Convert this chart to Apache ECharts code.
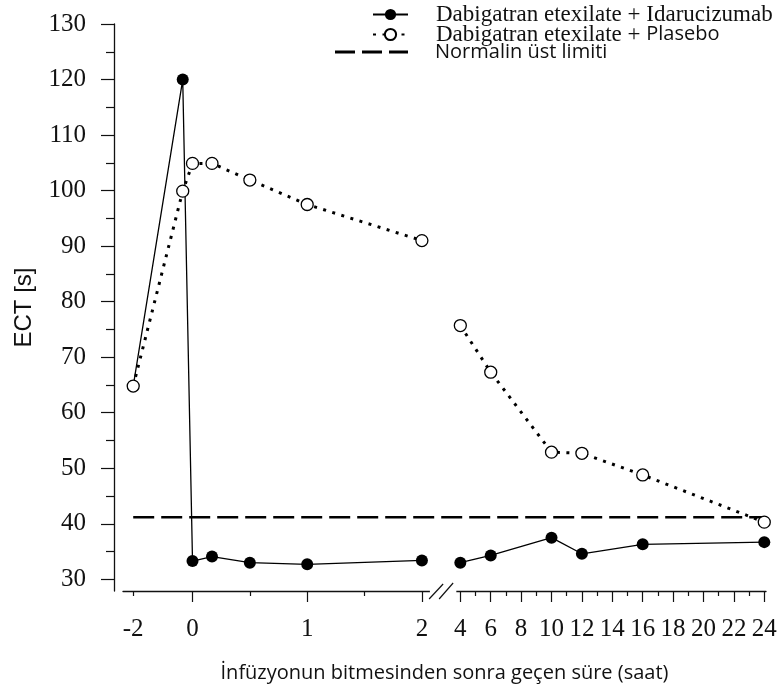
<!DOCTYPE html>
<html><head><meta charset="utf-8">
<script src="https://cdn.jsdelivr.net/npm/echarts@6/dist/echarts.min.js"></script>
<style>html,body{margin:0;padding:0;background:#fff}#c{width:779px;height:686px}</style>
</head><body><div id="c"></div>
<script>
// ---- data (hours after end of infusion) ----
const hours = [-2, -0.33, 0, 0.17, 0.5, 1, 2, 4, 6, 10, 12, 16, 24];
const idarucizumab = [64.8, 120, 33.3, 34.1, 33.0, 32.7, 33.4, 33.0, 34.3, 37.5, 34.6, 36.3, 36.7];
const plasebo = [64.8, 99.9, 104.9, 104.9, 101.9, 97.5, 91.0, 75.7, 67.3, 52.9, 52.7, 48.8, 40.3];
const normalLimit = 41.2;
const normalSpan = [-2, 24];
const majorTickHours = [0, 1, 2, 4, 6, 8, 10, 12, 14, 16, 18, 20, 22, 24];
const minorTickHours = [-2, 0.5, 1.5, 5, 7, 9, 11, 13, 15, 17, 19, 21, 23];
const labelHours = [-2, 0, 1, 2, 4, 6, 8, 10, 12, 14, 16, 18, 20, 22, 24];
const yTicks = [30, 40, 50, 60, 70, 80, 90, 100, 110, 120, 130];
const yMinorTicks = [35, 45, 55, 65, 75, 85, 95, 105, 115, 125];
const names = ['Dabigatran etexilate + Idarucizumab', 'Dabigatran etexilate + Plasebo', 'Normalin üst limiti'];
const xTitle = 'İnfüzyonun bitmesinden sonra geçen süre (saat)';
const yTitle = 'ECT [s]';

// broken time axis: piecewise-linear scale hours -> axis position
function pos(t) {
  if (t <= 0) return t * 0.2585;
  if (t <= 2) return t;
  if (t < 4) return 2 + (t - 2) * (0.335 / 2);
  return 2.335 + (t - 4) * 0.1325;
}
function build(vals) {
  const out = [];
  hours.forEach((h, i) => {
    if (i > 0 && hours[i - 1] <= 2 && h >= 4) out.push([pos(3), null]);
    out.push([pos(h), vals[i]]);
  });
  return out;
}
const X_MIN = -0.606, X_MAX = 5.0;
const serif = 'Liberation Serif', sans = 'Open Sans';

const chart = echarts.init(document.getElementById('c'), null, {renderer: 'canvas'});
chart.setOption({
  backgroundColor: '#fff',
  animation: false,
  grid: {left: 123, right: 13, top: 24, bottom: 95, containLabel: false, outerBoundsMode: 'none'},
  xAxis: [{
    type: 'value', min: X_MIN, max: X_MAX, position: 'bottom',
    axisLine: {show: true, onZero: false, lineStyle: {color: '#111', width: 1.3}},
    axisTick: {show: true, length: 11, customValues: majorTickHours.map(pos), lineStyle: {color: '#111', width: 1.2}},
    axisLabel: {show: true, margin: 26, customValues: labelHours.map(pos), color: '#111',
      fontFamily: serif, fontSize: 25,
      formatter: v => { const h = labelHours.find(x => Math.abs(pos(x) - v) < 1e-6); return h === undefined ? '' : String(h); }},
    splitLine: {show: false},
    name: xTitle, nameLocation: 'middle', nameGap: 72,
    nameTextStyle: {fontFamily: sans, fontSize: 20, color: '#111'}
  }, {
    type: 'value', min: X_MIN, max: X_MAX, position: 'bottom',
    axisLine: {show: false, onZero: false},
    axisTick: {show: true, length: 5, customValues: minorTickHours.map(pos), lineStyle: {color: '#111', width: 1.2}},
    axisLabel: {show: false}, splitLine: {show: false}
  }],
  yAxis: [{
    type: 'value', min: 27.9, max: 130, position: 'left', offset: 9,
    axisLine: {show: true, onZero: false, lineStyle: {color: '#111', width: 1.3}},
    axisTick: {show: true, length: 13, customValues: yTicks, lineStyle: {color: '#111', width: 1.2}},
    axisLabel: {show: true, margin: 28, customValues: yTicks, color: '#111', fontFamily: serif, fontSize: 25},
    splitLine: {show: false},
    name: yTitle, nameLocation: 'middle', nameGap: 78,
    nameTextStyle: {fontFamily: 'Liberation Sans', fontSize: 24, color: '#111'}
  }, {
    type: 'value', min: 27.9, max: 130, position: 'left', offset: 9,
    axisLine: {show: false, onZero: false},
    axisTick: {show: true, length: 8, customValues: yMinorTicks, lineStyle: {color: '#111', width: 1.2}},
    axisLabel: {show: false}, splitLine: {show: false}
  }],
  legend: [{
    data: [names[0]], left: 372, top: 3, padding: 0, itemWidth: 35, itemHeight: 14, selectedMode: false,
    textStyle: {fontFamily: serif, fontSize: 23, color: '#111', padding: [0, 0, 0, 23]}
  }, {
    data: [names[1]], left: 372, top: 23, padding: 0, itemWidth: 35, itemHeight: 14, selectedMode: false,
    formatter: () => '{a|Dabigatran etexilate + }{b|Plasebo}',
    textStyle: {color: '#111', padding: [0, 0, 0, 23],
      rich: {a: {fontFamily: serif, fontSize: 23, color: '#111'}, b: {fontFamily: sans, fontSize: 20, color: '#111'}}}
  }, {
    data: [{name: names[2], icon: 'path://M0,0H20V3H0Z M27,0H47V3H27Z M54,0H73V3H54Z'}],
    left: 335, top: 42, padding: 0, itemWidth: 73, itemHeight: 3, selectedMode: false,
    textStyle: {fontFamily: sans, fontSize: 20, color: '#111', padding: [0, 0, 0, 22]}
  }],
  series: [{
    name: names[2], type: 'line', xAxisIndex: 0, yAxisIndex: 0,
    data: normalSpan.map(h => [pos(h), normalLimit]),
    symbol: 'none', color: '#000',
    lineStyle: {color: '#000', width: 2.5, type: [21, 7]}, z: 2
  }, {
    name: names[0], type: 'line', xAxisIndex: 0, yAxisIndex: 0,
    data: build(idarucizumab), connectNulls: false,
    symbol: 'circle', symbolSize: 12, color: '#000',
    itemStyle: {color: '#000'},
    lineStyle: {color: '#000', width: 1.3}, z: 3
  }, {
    name: names[1], type: 'line', xAxisIndex: 0, yAxisIndex: 0,
    data: build(plasebo), connectNulls: false,
    symbol: 'circle', symbolSize: 12,
    itemStyle: {color: '#fff', borderColor: '#000', borderWidth: 1.3},
    lineStyle: {color: '#000', width: 3, type: [3, 6.5], cap: 'butt'}, z: 4
  }]
});

// axis break marks between 2 h and 4 h
const x2 = chart.convertToPixel({xAxisIndex: 0}, pos(2));
const x4 = chart.convertToPixel({xAxisIndex: 0}, pos(4));
const yb = chart.convertToPixel({yAxisIndex: 0}, 27.9);
const mid = (x2 + x4) / 2;
chart.setOption({
  graphic: [
    {type: 'rect', shape: {x: x2 + 8, y: yb - 3, width: (x4 - 4) - (x2 + 8), height: 6}, style: {fill: '#fff'}, z: 100},
    {type: 'line', shape: {x1: mid - 12, y1: yb + 8, x2: mid + 2, y2: yb - 7}, style: {stroke: '#111', lineWidth: 1.2}, z: 101},
    {type: 'line', shape: {x1: mid - 2, y1: yb + 8, x2: mid + 12, y2: yb - 8}, style: {stroke: '#111', lineWidth: 1.2}, z: 101}
  ]
});
</script></body></html>
